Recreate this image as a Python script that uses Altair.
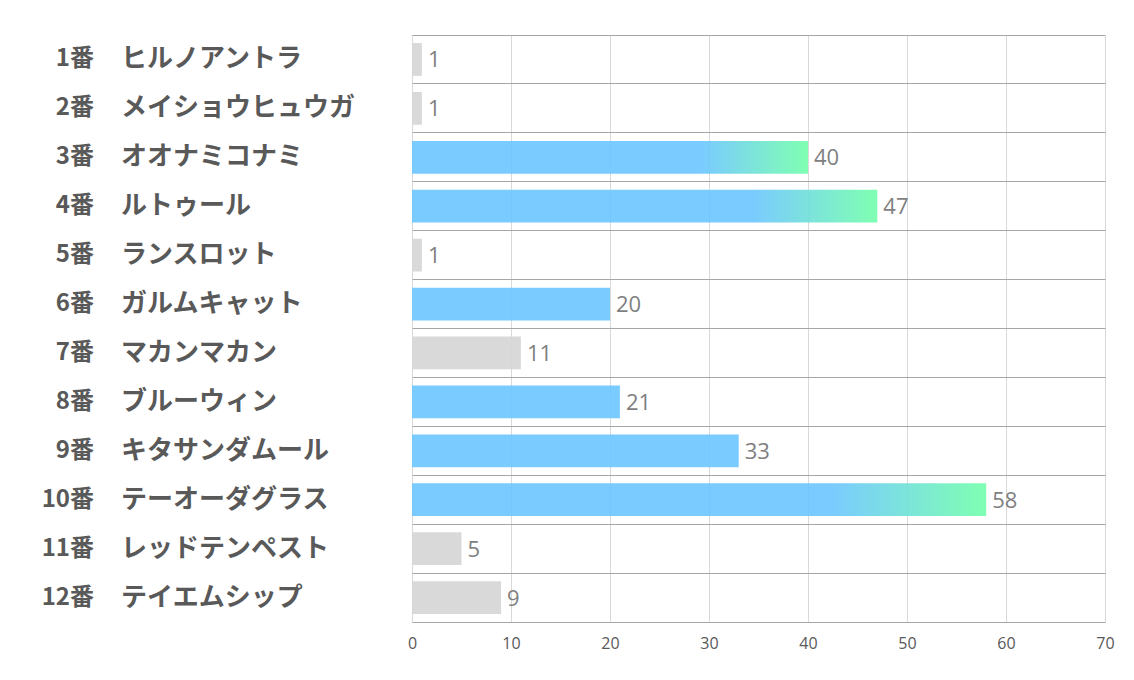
import altair as alt
import pandas as pd

nums = ["1番", "2番", "3番", "4番", "5番", "6番", "7番", "8番", "9番", "10番", "11番", "12番"]
names = ["ヒルノアントラ", "メイショウヒュウガ", "オオナミコナミ", "ルトゥール", "ランスロット",
         "ガルムキャット", "マカンマカン", "ブルーウィン", "キタサンダムール", "テーオーダグラス",
         "レッドテンペスト", "テイエムシップ"]
values = [1, 1, 40, 47, 1, 20, 11, 21, 33, 58, 5, 9]
tiers = ["gray", "gray", "grad", "grad", "gray", "blue", "gray", "blue", "blue", "grad", "gray", "gray"]
x_ticks = [0, 10, 20, 30, 40, 50, 60, 70]

df = pd.DataFrame({"num": nums, "name": names, "value": values, "tier": tiers})
df["key"] = df["num"]

BLUE = "#6BC5FF"
GREEN = "#71FFAA"
GRAY = "#D5D5D5"
OP = 0.9

yenc = alt.Y("key:N", sort=nums,
             scale=alt.Scale(paddingInner=0, paddingOuter=0),
             axis=alt.Axis(title=None, labels=False, ticks=False, domain=False,
                           grid=True, gridColor="#A6A6A6", gridWidth=1, bandPosition=0))
xenc = alt.X("value:Q", scale=alt.Scale(domain=[0, 70], nice=False),
             axis=alt.Axis(title=None, values=x_ticks, ticks=False, domain=True,
                           domainColor="#A6A6A6", domainWidth=1,
                           grid=True, gridColor="#D9D9D9", gridWidth=1,
                           labelColor="#595959", labelFontSize=16, labelPadding=13,
                           labelFlush=False, labelFont="Liberation Sans Narrow, Open Sans"))

base = alt.Chart(df)

gray_bars = base.transform_filter(alt.datum.tier == "gray").mark_bar(
    height={"band": 0.67}, fill=GRAY, opacity=OP).encode(x=xenc, y=yenc)
blue_bars = base.transform_filter(alt.datum.tier == "blue").mark_bar(
    height={"band": 0.67}, fill=BLUE, opacity=OP).encode(x="value:Q", y=alt.Y("key:N", sort=nums))

grad = alt.Gradient(
    gradient="linear",
    stops=[alt.GradientStop(offset=0, color=BLUE),
           alt.GradientStop(offset=0.73, color=BLUE),
           alt.GradientStop(offset=1, color=GREEN)],
    x1=0, x2=1, y1=0, y2=0)
grad_bars = base.transform_filter(alt.datum.tier == "grad").mark_bar(
    height={"band": 0.67}, fill=grad, opacity=OP).encode(x="value:Q", y=alt.Y("key:N", sort=nums))

val_text = base.mark_text(align="left", baseline="middle", dx=6, dy=1, fontSize=22,
                          color="#7F7F7F", font="Open Sans").encode(
    x="value:Q", y=alt.Y("key:N", sort=nums), text="value:Q")

num_text = base.mark_text(align="right", baseline="middle", fontSize=24, fontWeight="bold",
                          color="#595959", font="Noto Sans CJK JP").encode(
    x=alt.value(-318), y=alt.Y("key:N", sort=nums), text="num:N")

name_text = base.mark_text(align="left", baseline="middle", fontSize=26, fontWeight="bold",
                           color="#595959", font="Noto Sans CJK JP").encode(
    x=alt.value(-291), y=alt.Y("key:N", sort=nums), text="name:N")

chart = alt.layer(gray_bars, blue_bars, grad_bars, val_text, num_text, name_text).properties(
    width=693, height=587,
    autosize=alt.AutoSizeParams(type="none"),
    padding={"left": 412, "top": 35, "right": 29, "bottom": 58},
).configure_view(stroke=None).configure(background="white")

chart.save("out.html", embed_options={"renderer": "svg", "actions": False})
